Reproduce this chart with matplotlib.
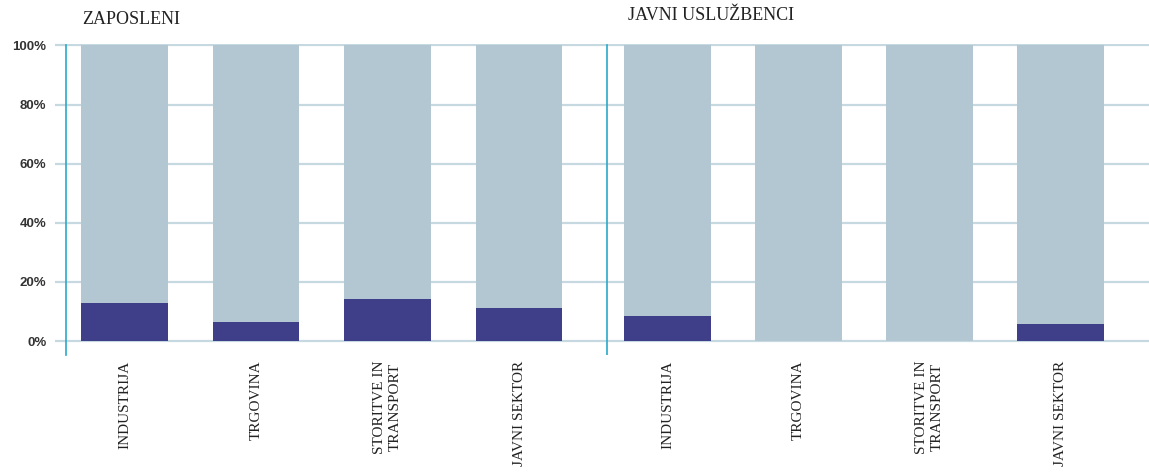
import numpy as np
import matplotlib.pyplot as plt

# data
sektorji = ["INDUSTRIJA", "TRGOVINA", "STORITVE IN\nTRANSPORT", "JAVNI SEKTOR"]
zaposleni = [12.8, 6.4, 14.1, 11.1]
javni_usluzbenci = [8.4, 0.0, 0.0, 5.7]
skupaj = [100, 100, 100, 100]

temno = "#3e3f88"
svetlo = "#b3c7d2"
mreza = "#c6d8e0"
modra = "#2aa9c9"

fig = plt.figure(figsize=(11.49, 4.72), dpi=100)
ax = fig.add_axes([0.0574, 0.2479, 0.9426, 0.6589])

x_levo = np.arange(4)
x_desno = np.arange(4) * 0.995 + 4.13
sirina = 0.66

ax.bar(x_levo, skupaj, width=sirina, color=svetlo, zorder=2)
ax.bar(x_levo, zaposleni, width=sirina, color=temno, zorder=3)
ax.bar(x_desno, skupaj, width=sirina, color=svetlo, zorder=2)
ax.bar(x_desno, javni_usluzbenci, width=sirina, color=temno, zorder=3)

ax.set_xlim(-0.445, 7.79)
ax.set_ylim(-4.7, 100.5)
ax.set_yticks([0, 20, 40, 60, 80, 100])
ax.set_yticklabels(["0%", "20%", "40%", "60%", "80%", "100%"],
                   fontfamily="Liberation Sans", fontweight="bold",
                   fontsize=9.5, color="#333333")
ax.yaxis.grid(True, color=mreza, linewidth=1.6, zorder=0)
ax.tick_params(axis="y", length=8, color=mreza, width=1.6, pad=6)

ax.set_xticks(list(x_levo) + list(x_desno))
ax.set_xticklabels(sektorji + sektorji, rotation=90, ha="center", va="top",
                   fontfamily="Liberation Serif", fontsize=11, color="#222222",
                   multialignment="center", linespacing=1.25)
ax.tick_params(axis="x", length=0, pad=4)

for s in ["top", "right", "bottom"]:
    ax.spines[s].set_visible(False)
ax.spines["left"].set_color(modra)
ax.spines["left"].set_linewidth(1.2)
ax.spines["left"].set_bounds(-4.7, 100)
ax.plot([3.67, 3.67], [-4.7, 100], color=modra, linewidth=1.2, zorder=4)

fig.text(82 / 1149, 1 - 20 / 472, "ZAPOSLENI", fontfamily="Liberation Serif",
         fontsize=13, color="#222222", va="center", ha="left")
fig.text(628 / 1149, 1 - 15 / 472, "JAVNI USLUŽBENCI", fontfamily="Liberation Serif",
         fontsize=13, color="#222222", va="center", ha="left")

fig.savefig("out.png", dpi=100)
